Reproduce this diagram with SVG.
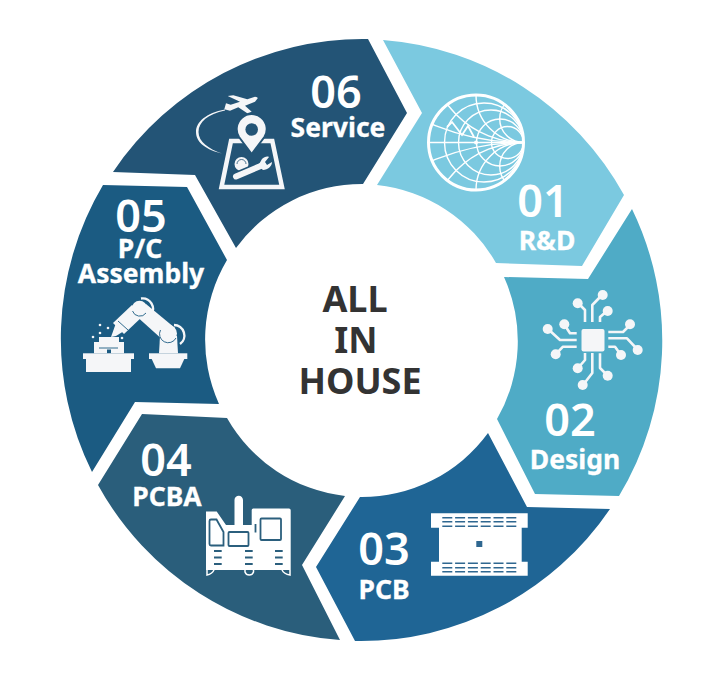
<svg xmlns="http://www.w3.org/2000/svg" width="718" height="696" viewBox="0 0 718 696">
<style>
text{font-family:"Noto Sans","Open Sans","Liberation Sans",sans-serif;text-anchor:middle;fill:#fff}
.n{font-size:45px;font-weight:600}
.l{font-size:26.500px;font-weight:700;stroke:#fff;stroke-width:.3}
.c{font-size:36px;font-weight:700;fill:#333}
.w{fill:#f5f6f8}
.sm{fill:none;stroke:#fff;stroke-width:1.400}
.tr{fill:none;stroke:#f5f6f8;stroke-width:2.600;stroke-linejoin:round}
.d{fill:none;stroke:#2b5f7d;stroke-width:1.800}
</style>
<defs>
<clipPath id="sc"><circle cx="476" cy="142.500" r="47.500"/></clipPath>
</defs>
<rect width="718" height="696" fill="#fff"/>

<g id="node-01">
<path d="M383 40A301 301 0 0 1 624 195L582 266L496 263A156 156 0 0 0 377 185L422 113Z" fill="#7bc9e0"/>
<g clip-path="url(#sc)">
<path class="sm" d="M429 142.500H523"/>
<circle class="sm" cx="484" cy="142.500" r="39.500"/>
<circle class="sm" cx="491" cy="142.500" r="32.500"/>
<circle class="sm" cx="500" cy="142.500" r="23.500"/>
<circle class="sm" cx="507.500" cy="142.500" r="16"/>
<circle class="sm" cx="523.500" cy="47.500" r="95"/>
<circle class="sm" cx="523.500" cy="237.500" r="95"/>
<circle class="sm" cx="523.500" cy="95" r="47.500"/>
<circle class="sm" cx="523.500" cy="190" r="47.500"/>
<circle class="sm" cx="523.500" cy="118.700" r="23.800"/>
<circle class="sm" cx="523.500" cy="166.300" r="23.800"/>
<circle class="sm" cx="523.500" cy="-95" r="237.500"/>
<circle class="sm" cx="523.500" cy="380" r="237.500"/>
</g>
<circle cx="476" cy="142.500" r="47.500" fill="none" stroke="#fff" stroke-width="3"/>
<path d="M447 127L452 122L462 135L468 126L474 137" fill="none" stroke="#fff" stroke-width="1.800"/>
<circle cx="476" cy="142.500" r="2" fill="#fff"/>
<text class="n" x="543" y="217">01</text>
<text class="l" x="547" y="250">R&amp;D</text>
</g>

<g id="node-02">
<path d="M632 209A301 301 0 0 1 619 496L535 494L497 419A156 156 0 0 0 504 277L588 279Z" fill="#4fabc6"/>
<rect class="w" x="581.500" y="329" width="23" height="22.500" rx="2"/>
<path class="tr" d="M585 322V310L578 303M592.300 322V305L602 295M600 322V317L607 311M608.300 332H623L630 325M608.300 338.300H627L637 349M608.300 346.700H615L621 355M600 353.300V368L607 375M592.300 353V373L583 385M585 353V360L578 368M576.700 340H560L548 329M576.700 333.300H570L564 324M576.700 346.700H563L556 354"/>
<g class="w"><circle cx="577.700" cy="303.300" r="5"/><circle cx="602.700" cy="295" r="5"/><circle cx="607.700" cy="311" r="5"/><circle cx="630" cy="324.300" r="5"/><circle cx="637.700" cy="350" r="5"/><circle cx="621" cy="355" r="5"/><circle cx="607.700" cy="375.700" r="5"/><circle cx="582.700" cy="385" r="5"/><circle cx="577.700" cy="368.300" r="5"/><circle cx="547.700" cy="329" r="5"/><circle cx="564.300" cy="324.300" r="5"/><circle cx="555.700" cy="354.300" r="5"/></g>
<text class="n" x="570" y="436">02</text>
<text class="l" x="575" y="469">Design</text>
</g>

<g id="node-03">
<path d="M610 509A301 301 0 0 1 355 641L316 567L360 497A156 156 0 0 0 488 433L527 507Z" fill="#1f6595"/>
<path fill="#fff" d="M431 513.300H527.700V527.700H521.700V561.700H527.700V575.700H431V561.700H439V527.700H431Z"/>
<g stroke="#2f6790" stroke-width="1.500" stroke-dasharray="10 2.800">
<path d="M442.300 517.700H518M442.300 521.700H518M442.300 526.300H518M442.300 563.300H518M442.300 567.700H518M442.300 571.700H518"/>
</g>
<rect x="476.300" y="541" width="6" height="6" fill="#2f6790"/>
<text class="n" x="384" y="565">03</text>
<text class="l" x="384" y="599">PCB</text>
</g>

<g id="node-04">
<path d="M340 640A301 301 0 0 1 98 485L142 414L227 418A156 156 0 0 0 345 496L302 565Z" fill="#2a5e7b"/>
<path fill="#fff" d="M206 511.500H216.700L226 525H234.500V500a4 4 0 0 1 8.500 0V525H251.700V510a1.500 1.500 0 0 1 1.500 -1.500H289a1.700 1.700 0 0 1 1.700 1.700V570H206Z"/>
<g fill="none" stroke="#fff" stroke-width="1.500"><path d="M207 570V575Q212 574 214 570M245 570V572a4.500 4.500 0 0 0 8.500 0V570M282 570Q284 574 290 575V570"/></g>
<path class="d" d="M211 519.500H216.500L223.500 532V545.500H211A1.500 1.500 0 0 1 209.500 544V521A1.500 1.500 0 0 1 211 519.500Z"/>
<rect class="d" x="228.500" y="532" width="20" height="14" rx="1"/>
<rect class="d" x="260.500" y="518.500" width="20.500" height="21.500" rx="1"/>
<path class="d" d="M255.500 524V532.500M214 551H221.700M214 557.500H221.700M214 564H221.700M245 551H252.700M245 557.500H252.700M245 564H252.700M275 551H282.700M275 557.500H282.700M275 564H282.700"/>
<text class="n" x="166" y="476">04</text>
<text class="l" x="167" y="506">PCBA</text>
</g>

<g id="node-05">
<path d="M92 472A301 301 0 0 1 103 185L187 187L227 260A156 156 0 0 0 219 404L135 402Z" fill="#1b5b82"/>
<g class="w">
<rect x="83" y="353.300" width="51" height="5.700"/>
<rect x="86" y="359" width="45" height="13"/>
<path d="M94 342H99V337H119V342H124V353.300H111V349.500H107V353.300H94Z"/>
<rect x="149" y="353.300" width="38.300" height="5.700"/>
<path d="M151.700 359H184.300L180 368.300H156Z"/>
<path d="M159 353.300L160 336H177L178 353.300Z"/>
<circle cx="168.500" cy="333.500" r="8.500"/>
<circle cx="139.500" cy="308.500" r="7.700"/>
<path d="M146 304L175 328L164 341L134 314Z"/>
<path d="M132 305L144 315L124 334L113 323Z"/>
<path d="M116 323L124 331L116 336L111 337Z"/>
<circle cx="100" cy="325" r="1.300"/><circle cx="108" cy="328" r="1.300"/><circle cx="100" cy="333" r="1.300"/><circle cx="93" cy="337" r="1.300"/><circle cx="122" cy="338" r="1.300"/>
</g>
<g fill="none" stroke="#f5f6f8" stroke-width="2.400"><path d="M141 298.500A10.500 10.500 0 0 1 151 315"/><path d="M174 325A10.500 10.500 0 0 1 180 344"/></g>
<g fill="none" stroke="#1b5b82" stroke-width=".9"><path d="M160.500 330A8.500 8.500 0 1 0 176 338"/><path d="M132.500 311A7.700 7.700 0 0 0 146 313M118 321L128 330M99 348H118"/></g>
<text class="n" x="141" y="232">05</text>
<text class="l" x="140" y="258">P/C</text>
<text class="l" x="141" y="283">Assembly</text>
</g>

<g id="node-06">
<path d="M113 172A301 301 0 0 1 368 39L407 113L363 184A156 156 0 0 0 236 248L195 175Z" fill="#235476"/>
<path class="w" d="M224.300 109.300L226 103.300L230.700 104.700L240 101.700L227.700 96L233.300 95.300L247.300 99.300L255 96.700Q258 97 257.700 98.300L255 101.700L245 105.700L251.700 111.700L247.300 113.300L238.300 107.300L230 110.700Z"/>
<path class="w" d="M225 109.500C206 113 196 122 196 132C196 143 207 150 222 153.500C209 149 198.500 142 198.500 132C198.500 122 208 114 225 110.500Z"/>
<path d="M231 141H272.300L282 187H221.500Z" fill="none" stroke="#f5f6f8" stroke-width="4.500"/>
<path d="M251.700 154L239 137A15 15 0 1 1 264.400 137Z" fill="#f5f6f8" stroke="#235476" stroke-width="2"/>
<circle cx="251.700" cy="129.500" r="6.300" fill="#235476"/>
<circle class="w" cx="241.500" cy="164" r="7"/>
<path d="M237 164A4.500 4.500 0 0 1 246 164" fill="none" stroke="#235476" stroke-width=".8"/>
<path d="M236 176.500L263 165" fill="none" stroke="#235476" stroke-width="9" stroke-linecap="round"/>
<path d="M236 176.500L263 165" fill="none" stroke="#f5f6f8" stroke-width="6" stroke-linecap="round"/>
<path class="w" d="M258 166L262 159C264 157 267 156 269 157L265 162L267 165L272 162C272 166 268 170 263 170Z"/>
<text class="n" x="336" y="108">06</text>
<text class="l" x="338" y="137">Service</text>
</g>

<g id="center">
<text class="c" x="355" y="312">ALL</text>
<text class="c" x="356" y="353">IN</text>
<text class="c" x="360" y="394">HOUSE</text>
</g>
</svg>
